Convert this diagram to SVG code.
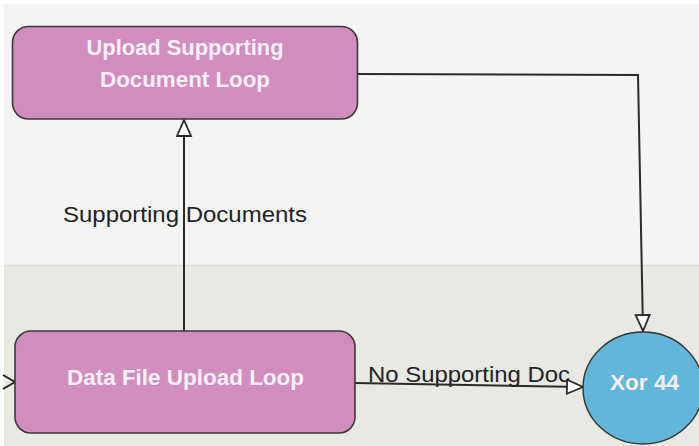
<svg xmlns="http://www.w3.org/2000/svg" width="699" height="446" viewBox="0 0 699 446">
<defs>
<style>
.lane1{fill:#f4f4f4}
.lane2{fill:#e9e9e4}
.task{fill:#d28dbf;stroke:#3a3a3a;stroke-width:1.6}
.xor{fill:#62b6da;stroke:#333;stroke-width:1.4}
.nt{font-family:"Liberation Sans",Arial,sans-serif;font-weight:bold;font-size:22.5px;fill:#f8f0f7;text-anchor:middle}
.lbl{font-family:"Liberation Sans",Arial,sans-serif;font-size:22px;fill:#222}
.edge{fill:none;stroke:#2a2a2a;stroke-width:2}
</style>
<marker id="tri" markerWidth="20" markerHeight="18" refX="17" refY="8" orient="auto" markerUnits="userSpaceOnUse">
<path d="M1,1 L17,8 L1,15 Z" fill="#fff" stroke="#2a2a2a" stroke-width="1.8"/>
</marker>
</defs>
<rect x="0" y="0" width="699" height="446" fill="#ffffff"/>
<rect class="lane1" x="4" y="4" width="695" height="261"/>
<rect class="lane2" x="4" y="265" width="695" height="181"/>
<line x1="4" y1="265.5" x2="699" y2="265.5" stroke="#dcdcd6" stroke-width="1.5"/>

<g id="connectors">
<path class="edge" d="M184,331 L184,120" marker-end="url(#tri)"/>
<path class="edge" d="M358,74 L638,75 L643,331" marker-end="url(#tri)"/>
<path class="edge" d="M355,383 L583,387" marker-end="url(#tri)"/>
<polyline points="3,375 15,382 3,389" fill="none" stroke="#222" stroke-width="2"/>
<text class="lbl" x="63" y="222" textLength="244" lengthAdjust="spacingAndGlyphs">Supporting Documents</text>
<text class="lbl" x="368" y="382" textLength="202" lengthAdjust="spacingAndGlyphs">No Supporting Doc</text>
</g>

<g id="upload-supporting">
<rect class="task" x="12.5" y="26.5" width="345" height="92.5" rx="16"/>
<text class="nt" x="185" y="55" textLength="197" lengthAdjust="spacingAndGlyphs">Upload Supporting</text>
<text class="nt" x="185" y="87" textLength="170" lengthAdjust="spacingAndGlyphs">Document Loop</text>
</g>

<g id="data-file-upload">
<rect class="task" x="15" y="331" width="340" height="102" rx="16"/>
<text class="nt" x="185.5" y="385" textLength="237" lengthAdjust="spacingAndGlyphs">Data File Upload Loop</text>
</g>

<g id="xor44">
<ellipse class="xor" cx="643" cy="388" rx="60" ry="56"/>
<text class="nt" x="644.5" y="390" textLength="69" lengthAdjust="spacingAndGlyphs">Xor 44</text>
</g>
</svg>
